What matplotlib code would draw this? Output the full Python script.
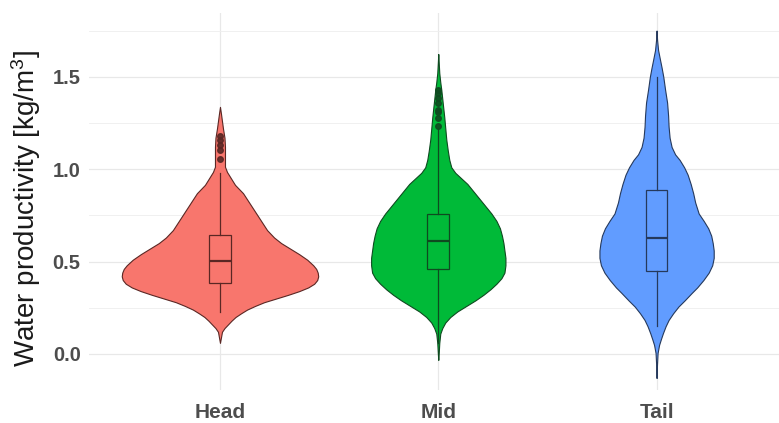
import matplotlib
matplotlib.use('Agg')
import matplotlib.pyplot as plt
import numpy as np

plt.rcParams['font.family'] = ['Liberation Sans', 'DejaVu Sans']
plt.rcParams['mathtext.default'] = 'regular'

groups = ['Head', 'Mid', 'Tail']
fills = ['#F8766D', '#00BA38', '#619CFF']
edges = ['#5a2724', '#0f4a20', '#25395c']

# violin outlines: water productivity value and relative density
head_y = [1.337, 1.30, 1.26, 1.22, 1.17, 1.12, 1.06, 1.013, 0.985, 0.95, 0.915, 0.87,
          0.82, 0.77, 0.72, 0.67, 0.63, 0.60, 0.57, 0.54, 0.51, 0.48, 0.46, 0.44,
          0.42, 0.40, 0.38, 0.36, 0.34, 0.32, 0.30, 0.28, 0.26, 0.24, 0.22, 0.20,
          0.18, 0.16, 0.14, 0.12, 0.09, 0.06]
head_d = [0, 1, 2, 3, 4.5, 5, 5, 5, 7, 11, 15, 23,
          29, 35, 41, 47, 54, 61, 70, 79, 87, 93, 96, 97.5,
          98, 97, 94, 88, 79, 68, 56, 44, 35, 27, 21, 15.5,
          11.5, 8, 4.5, 2, 1, 0]

mid_y = [1.623, 1.57, 1.52, 1.47, 1.43, 1.38, 1.33, 1.28, 1.22, 1.16, 1.10, 1.05,
         1.01, 0.98, 0.95, 0.92, 0.88, 0.84, 0.80, 0.76, 0.72, 0.68, 0.64, 0.60,
         0.56, 0.52, 0.48, 0.44, 0.41, 0.38, 0.35, 0.32, 0.29, 0.26, 0.23, 0.20,
         0.17, 0.14, 0.11, 0.06, 0.0, -0.032]
mid_d = [0, 0.5, 1, 2, 3, 4, 5, 6, 7, 8, 9.5, 11,
         13, 17, 23, 29, 35, 41, 47, 53, 58, 61.5, 63.5, 65,
         66, 67, 67, 66, 63, 58, 52, 45, 37, 28, 19, 12,
         7, 4, 2, 1, 0.4, 0]

tail_y = [1.75, 1.70, 1.645, 1.59, 1.55, 1.50, 1.43, 1.36, 1.29, 1.23, 1.17, 1.12,
          1.08, 1.05, 1.01, 0.97, 0.92, 0.87, 0.82, 0.76, 0.72, 0.68, 0.64, 0.60,
          0.56, 0.52, 0.48, 0.44, 0.40, 0.36, 0.33, 0.29, 0.256, 0.22, 0.184, 0.15,
          0.112, 0.08, 0.049, 0.005, -0.06, -0.13]
tail_d = [0, 0.5, 1.5, 3.5, 5, 6.7, 8.5, 10.5, 11.5, 12, 13, 15,
          18.5, 23, 27.5, 31, 34, 36.5, 38.5, 42, 47, 51.5, 54.5, 56,
          57, 57, 55.5, 52, 46.7, 40.5, 35, 28, 21.7, 16.5, 12, 9,
          6.3, 4.3, 2.5, 1, 0.4, 0]

# box statistics
q1 = [0.383, 0.458, 0.449]
med = [0.503, 0.611, 0.626]
q3 = [0.642, 0.759, 0.886]
whis_lo = [0.229, 0.06, 0.15]
whis_hi = [0.98, 1.22, 1.50]
head_out = [1.057, 1.106, 1.133, 1.16, 1.178]
mid_out = [1.231, 1.277, 1.312, 1.32, 1.357, 1.385, 1.41, 1.43]
tail_out = []

profiles = [(head_y, head_d), (mid_y, mid_d), (tail_y, tail_d)]
outliers = [head_out, mid_out, tail_out]

fig = plt.figure(figsize=(7.79, 4.23), dpi=100)
ax = fig.add_axes([89 / 779, 33 / 423, 690 / 779, 377 / 423])

# violins, scaled by area so the widest density gets 0.9
dmax = max(max(d) for _, d in profiles)
vpstats = []
widths = []
for (y, d) in profiles:
    y = np.array(y)
    d = np.array(d, dtype=float)
    vpstats.append(dict(coords=y, vals=d, mean=y.mean(), median=np.median(y),
                        min=y.min(), max=y.max()))
    widths.append(0.9 * d.max() / dmax)

vp = ax.violin(vpstats, positions=[1, 2, 3], widths=widths,
               showmeans=False, showextrema=False, showmedians=False)
for i, body in enumerate(vp['bodies']):
    body.set_facecolor(fills[i])
    body.set_edgecolor(edges[i])
    body.set_alpha(1)
    body.set_linewidth(0.8)
    body.set_joinstyle('round')
    body.set_zorder(2)

bstats = []
for i in range(3):
    bstats.append(dict(med=med[i], q1=q1[i], q3=q3[i], whislo=whis_lo[i],
                       whishi=whis_hi[i], fliers=outliers[i]))
bp = ax.bxp(bstats, positions=[1, 2, 3], widths=0.1, patch_artist=True,
            showcaps=False, showfliers=True, manage_ticks=False, zorder=3)
for i in range(3):
    bp['boxes'][i].set(facecolor=fills[i], edgecolor=edges[i], linewidth=0.9)
    bp['medians'][i].set(color=edges[i], linewidth=1.6)
    for w in bp['whiskers'][2 * i:2 * i + 2]:
        w.set(color=edges[i], linewidth=0.9)
    bp['fliers'][i].set(marker='o', markerfacecolor=edges[i],
                        markeredgecolor=edges[i], markersize=4, alpha=0.9)

ax.set_xlim(0.4, 0.4 + 690 / 218.3)
ax.set_ylim(-0.195, 1.845)
ax.set_xticks([1, 2, 3])
ax.set_xticklabels(groups)
ax.set_yticks([0, 0.5, 1.0, 1.5])
ax.set_yticklabels(['0.0', '0.5', '1.0', '1.5'])
ax.set_yticks([0.25, 0.75, 1.25, 1.75], minor=True)
ax.tick_params(axis='both', which='both', length=0)
ax.tick_params(axis='x', labelsize=15, labelcolor='#4d4d4d', pad=9)
ax.tick_params(axis='y', labelsize=14.5, labelcolor='#4d4d4d', pad=6)
for lab in ax.get_xticklabels() + ax.get_yticklabels():
    lab.set_fontweight('bold')

ax.grid(True, which='major', color='#e8e8e8', linewidth=0.9)
ax.grid(True, which='minor', axis='y', color='#eeeeee', linewidth=0.6)
ax.set_axisbelow(True)
for s in ax.spines.values():
    s.set_visible(False)

ax.set_ylabel('Water productivity [kg/m$^3$]', fontsize=20, color='#1a1a1a')
ax.yaxis.set_label_coords(-0.066, 0.483)

fig.savefig('out.png', dpi=100)
